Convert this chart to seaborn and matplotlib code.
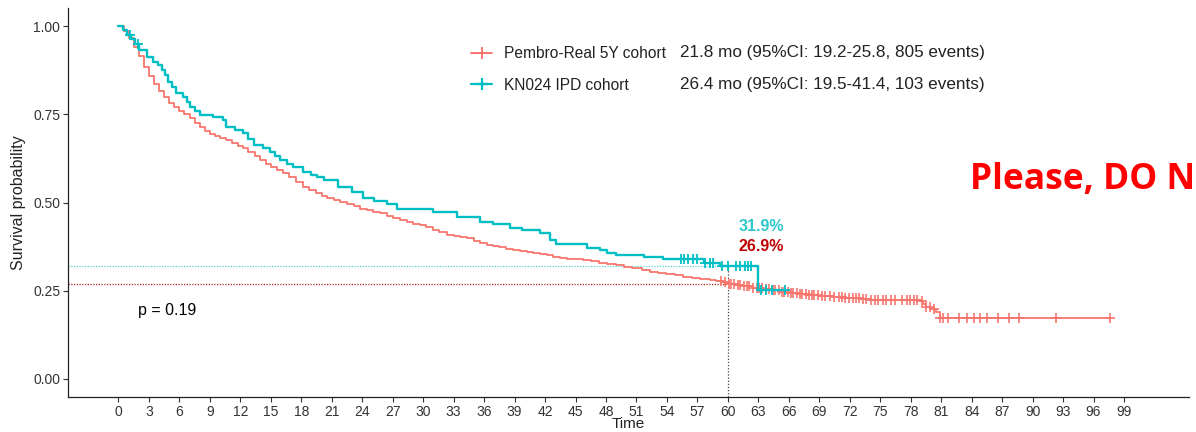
import numpy as np
import pandas as pd
import matplotlib
matplotlib.use("Agg")
import matplotlib.pyplot as plt
import seaborn as sns
from matplotlib.lines import Line2D

# ---------------- data ----------------
groups = ["Pembro-Real 5Y cohort", "KN024 IPD cohort"]
median_texts = ["21.8 mo (95%CI: 19.2-25.8, 805 events)",
                "26.4 mo (95%CI: 19.5-41.4, 103 events)"]

red_time = [0, 0.5, 1.0, 1.5, 2.0, 2.5, 3.0, 3.5, 4.0, 4.5, 5.0, 5.5, 6.0, 6.5, 7.0,
            7.5, 8.0, 8.5, 9.0, 9.5, 10.0, 10.6, 11.2, 11.8, 12.3, 12.8, 13.4, 13.9,
            14.5, 15.0, 15.6, 16.2, 16.8, 17.5, 18.2, 18.8, 19.4, 20.0, 20.5, 21.2,
            21.8, 22.5, 23.2, 23.8, 24.5, 25.1, 25.7, 26.4, 27.0, 27.7, 28.4, 29.0,
            29.7, 30.3, 31.0, 31.6, 32.3, 33.0, 33.6, 34.3, 35.0, 35.6, 36.3, 36.9,
            37.5, 38.2, 38.8, 39.5, 40.2, 40.8, 41.5, 42.2, 42.8, 43.5, 44.2, 44.9,
            45.7, 46.5, 47.3, 48.1, 49.0, 49.8, 50.6, 51.5, 52.3, 53.1, 53.9, 54.8,
            55.6, 56.5, 57.3, 58.2, 58.8, 59.5, 60.0, 60.8, 61.6, 62.5, 63.5, 64.3,
            65.2, 66.1, 67.1, 68.0, 69.0, 70.4, 71.5, 73.0, 74.0, 76.0, 78.9, 79.2,
            79.5, 80.0, 80.5, 80.9, 97.6]
red_surv = [1.0, 0.985, 0.965, 0.94, 0.915, 0.885, 0.857, 0.835, 0.815, 0.798, 0.783,
            0.770, 0.760, 0.750, 0.738, 0.726, 0.714, 0.703, 0.695, 0.688, 0.683, 0.677,
            0.668, 0.660, 0.653, 0.643, 0.631, 0.620, 0.610, 0.601, 0.592, 0.583, 0.572,
            0.559, 0.545, 0.535, 0.526, 0.519, 0.514, 0.508, 0.502, 0.495, 0.489, 0.483,
            0.478, 0.473, 0.469, 0.462, 0.456, 0.450, 0.445, 0.440, 0.436, 0.430, 0.423,
            0.417, 0.408, 0.405, 0.402, 0.399, 0.392, 0.384, 0.380, 0.376, 0.373, 0.369,
            0.366, 0.363, 0.360, 0.357, 0.354, 0.350, 0.346, 0.344, 0.341, 0.339, 0.337,
            0.334, 0.330, 0.327, 0.323, 0.318, 0.314, 0.309, 0.304, 0.300, 0.297, 0.294,
            0.290, 0.287, 0.284, 0.280, 0.277, 0.274, 0.269, 0.266, 0.263, 0.259, 0.254,
            0.251, 0.247, 0.243, 0.241, 0.238, 0.235, 0.231, 0.229, 0.227, 0.225, 0.224,
            0.220, 0.212, 0.203, 0.197, 0.191, 0.174, 0.174]
red_censor_time = [59.3, 59.7, 60.1, 60.3, 60.6, 61.0, 61.2, 61.6, 61.9, 62.1, 62.5,
                   62.9, 63.1, 63.4, 63.8, 64.0, 64.4, 64.6, 65.0, 65.3, 65.5, 65.9,
                   66.2, 66.4, 66.8, 67.1, 67.3, 67.7, 68.0, 68.3, 68.5, 68.9, 69.3,
                   69.6, 70.1, 70.4, 70.9, 71.2, 71.5, 71.9, 72.3, 72.6, 72.9, 73.3,
                   73.6, 74.1, 74.5, 74.8, 75.3, 75.6, 76.1, 76.5, 77.1, 77.6, 77.9,
                   78.3, 78.6, 79.1, 79.5, 79.9, 80.3, 80.9, 81.2, 81.7, 82.8, 83.5,
                   84.2, 84.8, 85.5, 86.6, 87.7, 88.7, 92.3, 97.6]

teal_time = [0, 0.4, 0.8, 1.2, 1.6, 2.0, 2.8, 3.4, 3.9, 4.3, 4.6, 4.9, 5.3, 5.7, 6.4,
             6.7, 7.0, 7.5, 8.0, 9.3, 10.3, 10.6, 11.5, 12.3, 12.8, 13.3, 14.2, 14.9,
             15.4, 15.9, 16.6, 17.2, 18.2, 19.0, 19.5, 20.2, 21.6, 23.0, 24.1, 25.2,
             26.4, 27.4, 31.0, 33.3, 35.6, 36.9, 38.5, 39.7, 41.5, 42.5, 43.1, 46.1,
             47.4, 48.1, 49.0, 51.7, 53.6, 57.6, 59.2, 63.0, 65.6]
teal_surv = [1.0, 0.99, 0.975, 0.962, 0.95, 0.932, 0.913, 0.899, 0.89, 0.875, 0.86,
             0.842, 0.826, 0.809, 0.80, 0.786, 0.771, 0.76, 0.748, 0.743, 0.734, 0.715,
             0.706, 0.696, 0.68, 0.663, 0.654, 0.644, 0.632, 0.62, 0.61, 0.601, 0.587,
             0.578, 0.573, 0.564, 0.545, 0.531, 0.512, 0.504, 0.497, 0.483, 0.474,
             0.458, 0.446, 0.439, 0.428, 0.422, 0.413, 0.394, 0.382, 0.37, 0.365,
             0.358, 0.351, 0.346, 0.339, 0.33, 0.319, 0.252, 0.252]
teal_censor_time = [1.1, 1.9, 55.4, 55.7, 56.1, 56.6, 57.0, 57.7, 58.2, 58.5, 59.4,
                    60.0, 60.8, 61.2, 61.7, 62.0, 62.3, 63.3, 63.8, 64.3, 65.6]

landmark_time = 60
landmark_surv = [0.269, 0.319]
landmark_labels = ["26.9%", "31.9%"]
p_value_text = "p = 0.19"
x_ticks = list(range(0, 100, 3))
y_ticks = [0.00, 0.25, 0.50, 0.75, 1.00]
watermark = "Please, DO N"

# ---------------- style ----------------
sns.set_theme(style="white")
plt.rcParams["font.family"] = ["Liberation Sans", "DejaVu Sans"]

red = "#F8766D"
teal = "#00BFC4"
label_dark_red = "#C00000"
label_teal = "#2EC7C9"

fig = plt.figure(figsize=(11.96, 4.32), dpi=100)
ax = fig.add_axes([68 / 1196, 35 / 432, (1189 - 68) / 1196, (424 - 35) / 432])

xlim = (-4.97, 105.4)
ylim = (-0.051, 1.051)


def step_value(ts, ss, t):
    ts = np.asarray(ts)
    idx = np.searchsorted(ts, t, side="right") - 1
    return np.asarray(ss)[idx]


# reference lines
for surv, col in zip(landmark_surv, ["#B5281C", "#5AD3D6"]):
    ax.hlines(surv, xlim[0], landmark_time, colors=col, linestyles=(0, (1, 1.2)),
              linewidth=0.9, zorder=1)
ax.vlines(landmark_time, ylim[0], max(landmark_surv), colors="#444444",
          linestyles=(0, (1, 1.5)), linewidth=0.9, zorder=1)

# curves
df_red = pd.DataFrame({"time": red_time, "surv": red_surv})
df_teal = pd.DataFrame({"time": teal_time, "surv": teal_surv})
sns.lineplot(data=df_red, x="time", y="surv", ax=ax, color=red, linewidth=1.3,
             estimator=None, sort=False, drawstyle="steps-post", zorder=3)
sns.lineplot(data=df_teal, x="time", y="surv", ax=ax, color=teal, linewidth=1.7,
             estimator=None, sort=False, drawstyle="steps-post", zorder=4)

# censor marks
rc = np.asarray(red_censor_time)
tc = np.asarray(teal_censor_time)
sns.scatterplot(x=rc, y=step_value(red_time, red_surv, rc), ax=ax, marker="+",
                s=45, color=red, linewidth=1.2, zorder=3)
sns.scatterplot(x=tc, y=step_value(teal_time, teal_surv, tc), ax=ax, marker="+",
                s=45, color=teal, linewidth=1.3, zorder=4)

# annotations
ax.text(63.3, 0.431, landmark_labels[1], color=label_teal, fontsize=11.5,
        fontweight="bold", ha="center", va="center")
ax.text(63.3, 0.375, landmark_labels[0], color=label_dark_red, fontsize=11.5,
        fontweight="bold", ha="center", va="center")
ax.text(1.9, 0.193, p_value_text, color="black", fontsize=11.5, ha="left", va="center")

# axes
ax.set_xlim(*xlim)
ax.set_ylim(*ylim)
ax.set_xticks(x_ticks)
ax.set_xticklabels([str(v) for v in x_ticks])
ax.set_yticks(y_ticks)
ax.set_yticklabels([f"{v:.2f}" for v in y_ticks])
ax.tick_params(axis="both", which="major", length=3.5, width=0.8, color="#333333",
               labelsize=10, labelcolor="#333333", pad=2, direction="out",
               bottom=True, left=True)
for side in ["top", "right"]:
    ax.spines[side].set_visible(False)
for side in ["left", "bottom"]:
    ax.spines[side].set_color("#222222")
    ax.spines[side].set_linewidth(0.9)
ax.set_xlabel("Time", fontsize=11, color="#222222", labelpad=-1.5)
ax.set_ylabel("Survival probability", fontsize=11.5, color="#222222", labelpad=5)
ax.grid(False)

# legend
handles = [Line2D([0], [0], color=red, lw=1.4, marker="+", markersize=8, mew=1.4),
           Line2D([0], [0], color=teal, lw=1.6, marker="+", markersize=8, mew=1.6)]
leg = fig.legend(handles, groups, loc="upper left",
                 bbox_to_anchor=(471 / 1196, 1 - 46 / 432), frameon=False,
                 fontsize=11.2, handlelength=1.37, handletextpad=0.75,
                 labelspacing=1.08, borderpad=0, borderaxespad=0)
for t in leg.get_texts():
    t.set_color("#222222")
for i, txt in enumerate(median_texts):
    fig.text(680 / 1196, 1 - (52.5 + i * 31.8) / 432, txt, fontsize=12.3,
             color="#222222", ha="left", va="center")

# watermark
fig.text(970 / 1196, 1 - 180 / 432, watermark, color="#FF0000", fontsize=25.5,
         fontweight="bold", family=["Open Sans", "DejaVu Sans"], ha="left", va="center")

fig.savefig("out.png", dpi=100)
